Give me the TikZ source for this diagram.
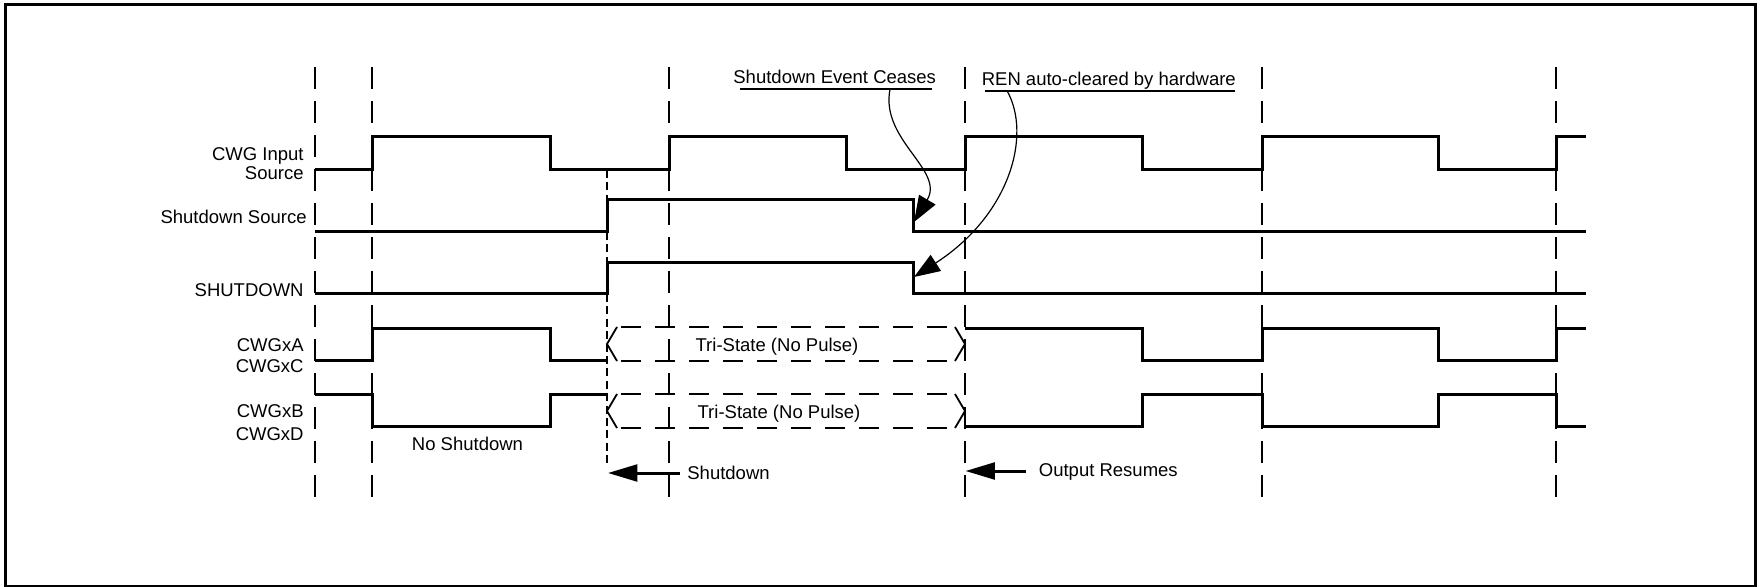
\documentclass[tikz,border=0pt]{standalone}
\usepackage{fontspec}
\setmainfont{Liberation Sans}
\usetikzlibrary{arrows.meta}
\begin{document}
\begin{tikzpicture}[x=0.5pt,y=-0.5pt,
  wave/.style={line width=1.5pt, line join=miter},
  gridline/.style={line width=1.2pt, dash pattern=on 11pt off 6pt},
  fineline/.style={line width=1pt, dash pattern=on 4pt off 2.2pt},
  tribox/.style={line width=1.2pt, dash pattern=on 10pt off 7pt, dash phase=-2pt},
  chevron/.style={line width=0.9pt},
  lbl/.style={font=\fontsize{9.25pt}{11pt}\selectfont, inner sep=0pt},
  bigarrow/.style={line width=1.5pt, -{Triangle[length=14.7pt,width=8.4pt]}},
  curvearrow/.style={line width=0.6pt, -{Triangle[length=13pt,width=9.5pt]}},
  uline/.style={line width=0.9pt}]
\useasboundingbox (0,0) rectangle (1761,587);
% frame
\draw[line width=1.5pt] (5.5,5) rectangle (1755,586);

% vertical dashed grid lines
\foreach \x/\n in {315/g1,372/g2,669/g3,965/g4,1262/g5,1556/g6} {
  \coordinate (\n top) at (\x,67);
  \coordinate (\n bot) at (\x,497);
  \draw[gridline] (\n top) -- (\n bot);
}
% fine dashed shutdown marker
\coordinate (sdtop) at (607,170);
\coordinate (sdbot) at (607,465);
\draw[fineline] (sdtop) -- (sdbot);

% waveforms
\draw[wave] (315,170) -- (372,170) -- (372,137) -- (550,137) -- (550,170) -- (669,170) -- (669,137) -- (846,137) -- (846,170) -- (965,170) -- (965,137) -- (1142,137) -- (1142,170) -- (1262,170) -- (1262,137) -- (1438,137) -- (1438,170) -- (1556,170) -- (1556,137) -- (1586,137);
\draw[wave] (315,232) -- (607,232) -- (607,200) -- (913,200) -- (913,232) -- (1586,232);
\draw[wave] (315,294) -- (607,294) -- (607,263) -- (913,263) -- (913,294) -- (1586,294);
\draw[wave] (315,361) -- (372,361) -- (372,329) -- (550,329) -- (550,361) -- (607,361);
\draw[wave] (965,329) -- (1142,329) -- (1142,361) -- (1262,361) -- (1262,329) -- (1438,329) -- (1438,361) -- (1556,361) -- (1556,329) -- (1586,329);
\draw[wave] (315,395) -- (372,395) -- (372,427) -- (550,427) -- (550,395) -- (607,395);
\draw[wave] (965,427) -- (1142,427) -- (1142,395) -- (1262,395) -- (1262,427) -- (1438,427) -- (1438,395) -- (1556,395) -- (1556,427) -- (1586,427);

% tri-state boxes
\foreach \yt/\ym/\yb in {327/344/361, 394/411/428} {
  \draw[chevron] (617,\yt) -- (607,\ym) -- (617,\yb);
  \draw[chevron] (955,\yt) -- (965,\ym) -- (955,\yb);
  \draw[tribox] (617,\yt) -- (955,\yt);
  \draw[tribox] (617,\yb) -- (955,\yb);
}
\node[lbl, anchor=base] (triA) at (777,351.7) {Tri-State (No Pulse)};
\node[lbl, anchor=base] (triB) at (779,419) {Tri-State (No Pulse)};

% signal labels
\node[lbl, anchor=base east] (l1a) at (304,160.7) {CWG Input};
\node[lbl, anchor=base east] (l1b) at (304,180) {Source};
\node[lbl, anchor=base east] (l2) at (307,223.3) {Shutdown Source};
\node[lbl, anchor=base east] (l3) at (304,296.5) {SHUTDOWN};
\node[lbl, anchor=base east] (l4a) at (304,351.7) {CWGxA};
\node[lbl, anchor=base east] (l4b) at (304,372.7) {CWGxC};
\node[lbl, anchor=base east] (l5a) at (304,417.3) {CWGxB};
\node[lbl, anchor=base east] (l5b) at (304,441) {CWGxD};
\node[lbl, anchor=base] (nosd) at (467.5,450.7) {No Shutdown};

% bottom arrows
\node[lbl, anchor=base west] (sdtxt) at (687,480) {Shutdown};
\coordinate (sdfrom) at (680,473);
\coordinate (sdtip) at (608,473);
\draw[bigarrow] (sdfrom) -- (sdtip);
\node[lbl, anchor=base west] (ortxt) at (1038.5,476.7) {Output Resumes};
\coordinate (orfrom) at (1026,471);
\coordinate (ortip) at (965.5,471);
\draw[bigarrow] (orfrom) -- (ortip);

% top annotations
\node[lbl, anchor=base west] (sec) at (733,83.3) {Shutdown Event Ceases};
\coordinate (secL) at (740,89.3);
\coordinate (secR) at (931.7,89.3);
\draw[uline] (secL) -- (secR);
\coordinate (secS) at (890,89.3);
\coordinate (secT) at (914,222);
\draw[curvearrow] (secS) .. controls (880,140) and (945,170) .. (secT);

\node[lbl, anchor=base west] (ren) at (981.4,85.7) {REN auto-cleared by hardware};
\coordinate (renL) at (985,90.7);
\coordinate (renR) at (1235,90.7);
\draw[uline] (renL) -- (renR);
\coordinate (renS) at (1007,90.7);
\coordinate (renT) at (914,277);
\draw[curvearrow] (renS) .. controls (1032,135) and (1010,215) .. (renT);
\end{tikzpicture}
\end{document}
